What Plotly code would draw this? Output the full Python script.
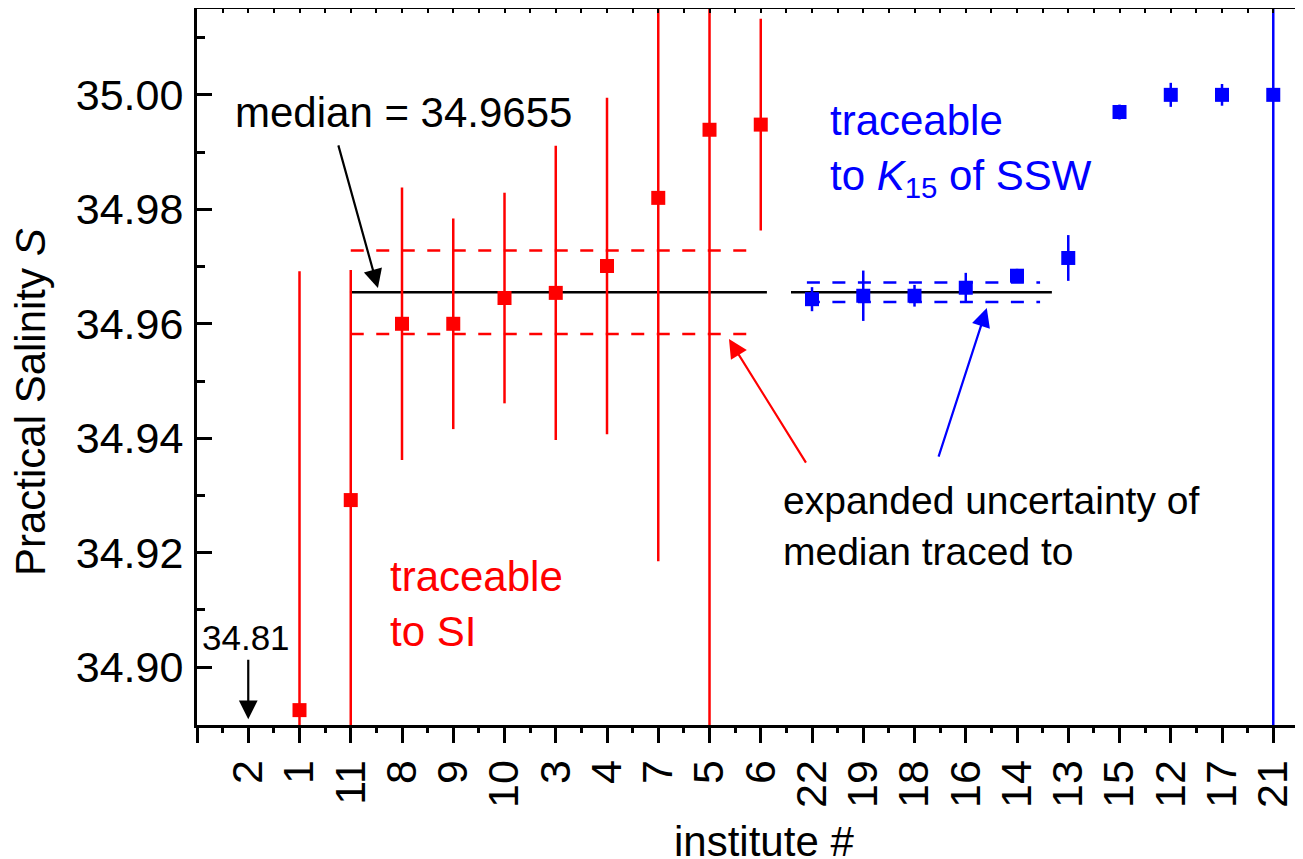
import plotly.graph_objects as go

# ---------------- data ----------------
institutes = ["2", "1", "11", "8", "9", "10", "3", "4", "7", "5", "6",
              "22", "19", "18", "16", "14", "13", "15", "12", "17", "21"]

# SI-traceable (red): positions 1..11
si_pos = [1, 2, 3, 4, 5, 6, 7, 8, 9, 10, 11]
si_val = [34.81, 34.8925, 34.9292, 34.9600, 34.9600, 34.9645, 34.9654,
          34.9701, 34.9820, 34.9939, 34.9948]
si_err = [0.0, 0.0767, 0.0402, 0.0238, 0.0184, 0.0184, 0.0257,
          0.0294, 0.0635, 0.2, 0.0185]

# K15 / SSW traceable (blue): positions 12..21
ssw_pos = [12, 13, 14, 15, 16, 17, 18, 19, 20, 21]
ssw_val = [34.9643, 34.9649, 34.9649, 34.9663, 34.9684, 34.9715,
           34.9970, 35.0000, 35.0000, 35.0000]
ssw_err = [0.0021, 0.0044, 0.0019, 0.0026, 0.0012, 0.0040,
           0.0013, 0.0021, 0.0019, 0.2]

median = 34.9655
u_si = 0.0073      # expanded uncertainty traced to SI
u_ssw = 0.0017     # expanded uncertainty traced to SSW

median_seg1 = [2.985, 11.12]
median_seg2 = [11.59, 16.68]
si_band_x = [3.0, 10.79]
ssw_band_x = [11.9, 16.45]

x_range = [0, 21.58]
y_range = [34.8899, 35.0150]

RED = "#FF0000"
BLUE = "#0000FF"
FONT = "Arial, 'Liberation Sans', sans-serif"

fig = go.Figure()

# dashed uncertainty bands
for yv in (median + u_si, median - u_si):
    fig.add_trace(go.Scatter(x=si_band_x, y=[yv, yv], mode="lines",
                             line=dict(color=RED, width=2.5, dash="13px,12.5px"),
                             showlegend=False, hoverinfo="skip"))
for yv in (median + u_ssw, median - u_ssw):
    fig.add_trace(go.Scatter(x=ssw_band_x, y=[yv, yv], mode="lines",
                             line=dict(color=BLUE, width=2.5, dash="13px,12.5px"),
                             showlegend=False, hoverinfo="skip"))
# median lines
for seg in (median_seg1, median_seg2):
    fig.add_trace(go.Scatter(x=seg, y=[median, median], mode="lines",
                             line=dict(color="black", width=2.5),
                             showlegend=False, hoverinfo="skip"))

# data points
fig.add_trace(go.Scatter(
    x=si_pos, y=si_val, mode="markers",
    marker=dict(symbol="square", size=14, color=RED),
    error_y=dict(type="data", array=si_err, visible=True, color=RED,
                 thickness=2.5, width=0),
    showlegend=False))
fig.add_trace(go.Scatter(
    x=ssw_pos, y=ssw_val, mode="markers",
    marker=dict(symbol="square", size=14, color=BLUE),
    error_y=dict(type="data", array=ssw_err, visible=True, color=BLUE,
                 thickness=2.5, width=0),
    showlegend=False))

# dummy trace for the top axis
fig.add_trace(go.Scatter(x=[], y=[], xaxis="x2", showlegend=False, hoverinfo="skip"))

major_x = list(range(0, 22))
tick_text = [""] + institutes
minor_x = [i + 0.5 for i in range(0, 22)]
top_ticks = sorted(major_x + minor_x)

fig.update_layout(
    width=1295, height=852,
    margin=dict(l=189, r=0, t=1, b=135, autoexpand=False),
    paper_bgcolor="white", plot_bgcolor="white",
    font=dict(family=FONT, size=42, color="black"),
    xaxis=dict(
        range=x_range, tickmode="array", tickvals=major_x, ticktext=tick_text,
        tickangle=-90, ticks="outside", ticklen=15, tickwidth=2.5, tickcolor="black",
        showline=True, linewidth=3, linecolor="black", showgrid=False, zeroline=False,
        tickfont=dict(size=43, family=FONT), automargin=False,
        minor=dict(tickmode="array", tickvals=minor_x, ticks="outside", ticklen=5,
                   tickwidth=2.5, tickcolor="black", showgrid=False),
    ),
    xaxis2=dict(
        range=x_range, overlaying="x", side="top", tickmode="array", tickvals=top_ticks,
        ticks="inside", ticklen=4, tickwidth=2, tickcolor="black",
        showticklabels=False, showline=True, linewidth=3, linecolor="black",
        showgrid=False, zeroline=False, automargin=False,
    ),
    yaxis=dict(
        range=y_range, tickmode="linear", tick0=34.90, dtick=0.02, tickformat=".2f",
        ticks="inside", ticklen=15, tickwidth=2.5, tickcolor="black",
        showline=True, linewidth=3, linecolor="black", showgrid=False, zeroline=False,
        tickfont=dict(size=43, family=FONT), ticklabelstandoff=2, automargin=False,
        minor=dict(tick0=34.89, dtick=0.01, ticks="inside", ticklen=8,
                   tickwidth=2.5, tickcolor="black", showgrid=False),
    ),
)

ann = []
# axis titles
ann.append(dict(text="Practical Salinity <i>S</i>", xref="paper", yref="paper",
                x=-0.151, y=0.451, textangle=-90, showarrow=False,
                font=dict(size=42, family=FONT, color="black"),
                xanchor="center", yanchor="middle"))
ann.append(dict(text="institute #", xref="paper", yref="paper",
                x=0.5127, y=-0.1634, showarrow=False,
                font=dict(size=42, family=FONT, color="black"),
                xanchor="center", yanchor="middle"))
# text labels
ann.append(dict(text="median = 34.9655", x=0.70, y=34.99685, xanchor="left",
                yanchor="middle", showarrow=False,
                font=dict(size=42, family=FONT, color="black")))
ann.append(dict(text="34.81", x=0.956, y=34.90524, xanchor="center",
                yanchor="middle", showarrow=False,
                font=dict(size=35, family=FONT, color="black")))
ann.append(dict(text="traceable<br>to SI", x=3.727, y=34.91101, xanchor="left",
                yanchor="middle", align="left", showarrow=False,
                font=dict(size=42, family=FONT, color=RED)))
ann.append(dict(text="traceable<br>to <i>K</i><sub>15</sub> of SSW", x=12.31, y=34.9902,
                xanchor="left", yanchor="middle", align="left", showarrow=False,
                font=dict(size=42, family=FONT, color=BLUE)))
ann.append(dict(text="expanded uncertainty of<br>median traced to", x=11.40, y=34.92465,
                xanchor="left", yanchor="middle", align="left", showarrow=False,
                font=dict(size=39, family=FONT, color="black")))

# arrows
def arrow(x0, y0, x1, y1, color):
    return dict(text="", x=x1, y=y1, ax=x0, ay=y0, xref="x", yref="y",
                axref="x", ayref="y", showarrow=True, arrowhead=2,
                arrowsize=1.7, arrowwidth=2.2, arrowcolor=color, standoff=0,
                startstandoff=0)

ann.append(arrow(2.75, 34.99143, 3.53, 34.96626, "black"))
ann.append(arrow(1.0, 34.90157, 1.0, 34.8909, "black"))
ann.append(arrow(11.90, 34.93549, 10.38, 34.95734, RED))
ann.append(arrow(14.46, 34.93654, 15.41, 34.96276, BLUE))

fig.update_layout(annotations=ann)

fig.write_html("out.html")
